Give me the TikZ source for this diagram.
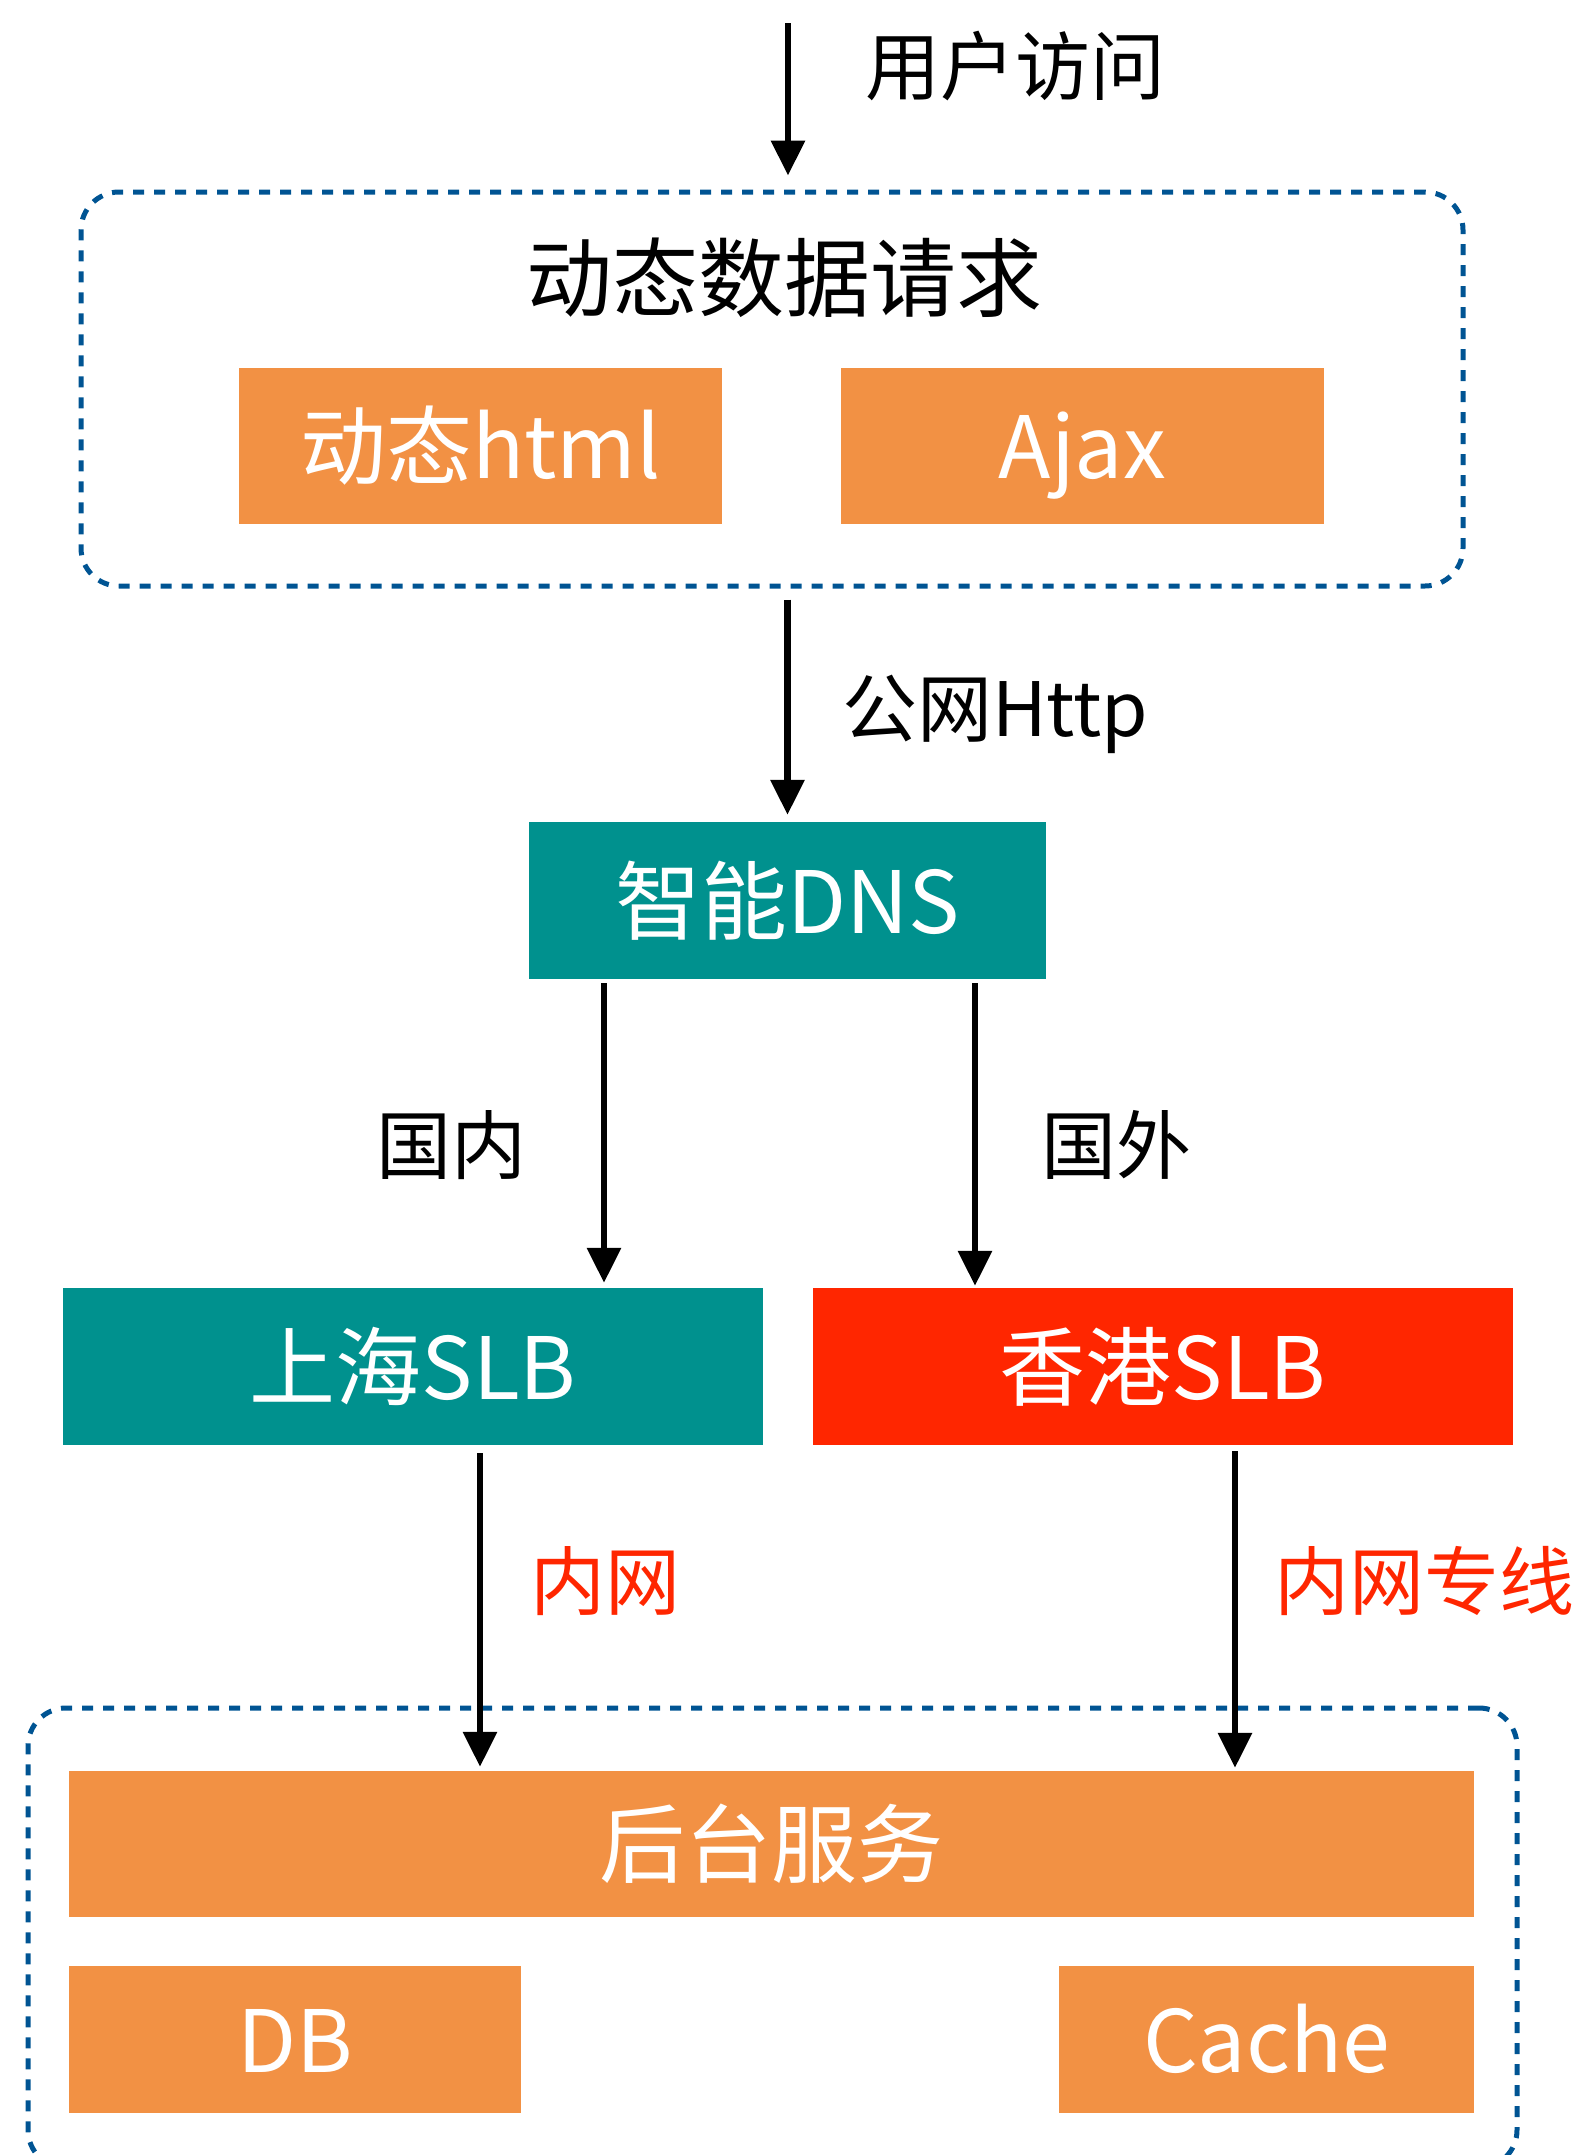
\documentclass[tikz,border=0pt]{standalone}
\usepackage{fontspec}
\setmainfont{Noto Sans CJK SC}
\usetikzlibrary{arrows.meta}
\definecolor{boxorange}{RGB}{242,145,68}
\definecolor{dnsteal}{RGB}{0,145,142}
\definecolor{hkred}{RGB}{255,38,0}
\definecolor{dashblue}{RGB}{0,84,147}

\begin{document}
\begin{tikzpicture}[x=1pt,y=-1pt,
    lbl/.style={inner sep=0pt,text height=60pt,text depth=3pt,font=\fontsize{75}{90}\selectfont},
    big/.style={inner sep=0pt,text height=69pt,text depth=3.4pt,font=\fontsize{86}{100}\selectfont},
    box/.style={big,fill=#1,text=white},
    box/.default=boxorange,
    group/.style={draw=dashblue,line width=5pt,dash pattern=on 11pt off 10pt,rounded corners=38pt,inner sep=0pt},
    arr/.style={line width=6.5pt,-{Triangle[length=35pt,width=33pt]}}]
  \useasboundingbox (0,0) rectangle (1588,2155);

  % request group
  \node[group,minimum width=1382pt,minimum height=394pt] (req) at (772,389) {};
  \node[big] (reqtitle) at (784,278) {动态数据请求};
  \node[box,minimum width=483pt,minimum height=156pt] (html) at (480.5,446) {动态html};
  \node[box,minimum width=483pt,minimum height=156pt] (ajax) at (1082.5,446) {Ajax};

  % dns and slb
  \node[box=dnsteal,minimum width=517pt,minimum height=157pt] (dns) at (787.5,900.5) {智能DNS};
  \node[box=dnsteal,minimum width=700pt,minimum height=157pt] (sh) at (413,1366.5) {上海SLB};
  \node[box=hkred,minimum width=700pt,minimum height=157pt] (hk) at (1163,1366.5) {香港SLB};

  % backend group
  \node[group,minimum width=1489pt,minimum height=460pt] (backend) at (772.5,1938) {};
  \node[box,minimum width=1405pt,minimum height=146pt] (svc) at (771.5,1844) {后台服务};
  \node[box,minimum width=452pt,minimum height=147pt] (db) at (295,2039.5) {DB};
  \node[box,minimum width=415pt,minimum height=147pt] (cache) at (1266.5,2039.5) {Cache};

  % arrows
  \coordinate (entry) at (788,23);
  \draw[arr,shorten >=14pt] (entry) -- (entry |- req.north);
  \draw[arr,shorten <=11pt,shorten >=7pt] (dns.north |- req.south) -- (dns.north);
  \draw[arr,shorten <=4pt,shorten >=5pt] ([xshift=-183.5pt]dns.south) -- ([xshift=-183.5pt]dns.south |- sh.north);
  \draw[arr,shorten <=4pt,shorten >=2pt] ([xshift=187.5pt]dns.south) -- ([xshift=187.5pt]dns.south |- hk.north);
  \draw[arr,shorten <=8pt,shorten >=4pt] ([xshift=67pt]sh.south) -- ([xshift=67pt]sh.south |- svc.north);
  \draw[arr,shorten <=6pt,shorten >=3pt] ([xshift=72pt]hk.south) -- ([xshift=72pt]hk.south |- svc.north);

  % labels
  \node[lbl] (visit) at (1015,66) {用户访问};
  \node[lbl] (http) at (995,708) {公网Http};
  \node[lbl] (cn) at (451,1145) {国内};
  \node[lbl] (abroad) at (1116,1145) {国外};
  \node[lbl,text=hkred] (lan) at (605,1581) {内网};
  \node[lbl,text=hkred] (lease) at (1424,1581) {内网专线};
\end{tikzpicture}
\end{document}
